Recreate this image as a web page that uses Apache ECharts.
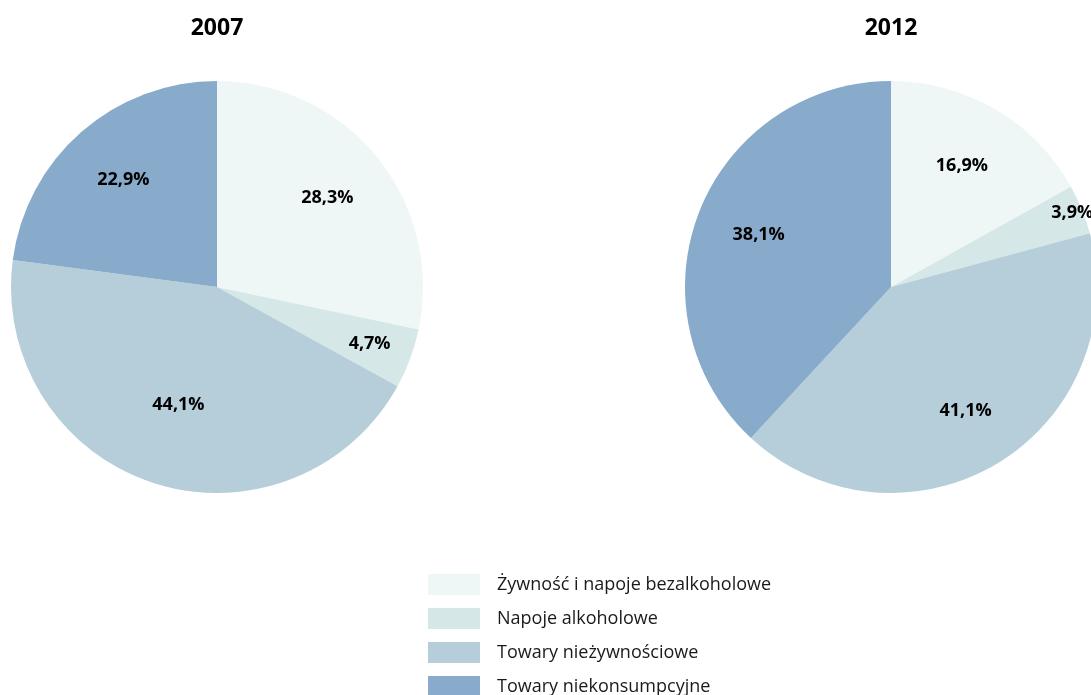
<!DOCTYPE html>
<html>
<head>
<meta charset="utf-8">
<script src="https://cdn.jsdelivr.net/npm/echarts@6/dist/echarts.min.js"></script>
<style>
  html, body { margin: 0; padding: 0; background: #fff; }
  #chart { width: 1091px; height: 695px; }
</style>
</head>
<body>
<div id="chart"></div>
<script>
// Structure of retail sales by product group
const categories = [
  'Żywność i napoje bezalkoholowe',
  'Napoje alkoholowe',
  'Towary nieżywnościowe',
  'Towary niekonsumpcyjne'
];
const years = ['2007', '2012'];
const shares2007 = [28.3, 4.7, 44.1, 22.9];
const shares2012 = [16.9, 3.9, 41.1, 38.1];

const colors = ['#EFF6F6', '#D5E7E7', '#B5CED9', '#88AACB'];

// pie geometry (pixels)
const pieY = 287;
const pieR = 206;
const pieX = [217, 891];
// radial placement of each value label, as a fraction of the radius
const labelRadius = [
  [0.69, 0.79, 0.60, 0.69],
  [0.68, 0.95, 0.70, 0.69]
];

const fmt = v => v.toFixed(1).replace('.', ',') + '%';
const font = '"Open Sans", sans-serif';

function pieSeries(idx, values) {
  return {
    type: 'pie',
    name: years[idx],
    center: [pieX[idx], pieY],
    radius: [0, pieR],
    startAngle: 90,
    clockwise: true,
    silent: true,
    animation: false,
    itemStyle: { borderWidth: 0 },
    label: {
      show: true,
      position: 'inside',
      formatter: p => fmt(p.value),
      fontFamily: font,
      fontWeight: 'bold',
      fontSize: 18,
      color: '#000'
    },
    labelLine: { show: false },
    labelLayout: function (p) {
      const r = p.labelRect;
      const lx = r.x + r.width / 2;
      const ly = r.y + r.height / 2;
      const vx = lx - pieX[idx];
      const vy = ly - pieY;
      const d = Math.sqrt(vx * vx + vy * vy) || 1;
      const target = labelRadius[idx][p.dataIndex] * pieR;
      return { dx: vx / d * target - vx, dy: vy / d * target - vy };
    },
    data: categories.map((c, i) => ({ name: c, value: values[i] }))
  };
}

const chart = echarts.init(document.getElementById('chart'), null, { renderer: 'canvas' });
chart.setOption({
  backgroundColor: '#fff',
  color: colors,
  animation: false,
  title: years.map((y, i) => ({
    text: y,
    left: pieX[i],
    top: 17,
    padding: 0,
    textAlign: 'center',
    textStyle: { fontFamily: font, fontWeight: 'bold', fontSize: 23, color: '#000' }
  })),
  legend: {
    orient: 'vertical',
    left: 428,
    top: 574,
    height: 160,
    padding: 0,
    icon: 'rect',
    itemWidth: 52,
    itemHeight: 21,
    itemGap: 13,
    selectedMode: false,
    data: categories,
    textStyle: {
      fontFamily: font,
      fontSize: 18,
      color: '#1a1a1a',
      padding: [0, 0, 0, 12]
    }
  },
  series: [pieSeries(0, shares2007), pieSeries(1, shares2012)]
});
</script>
</body>
</html>
